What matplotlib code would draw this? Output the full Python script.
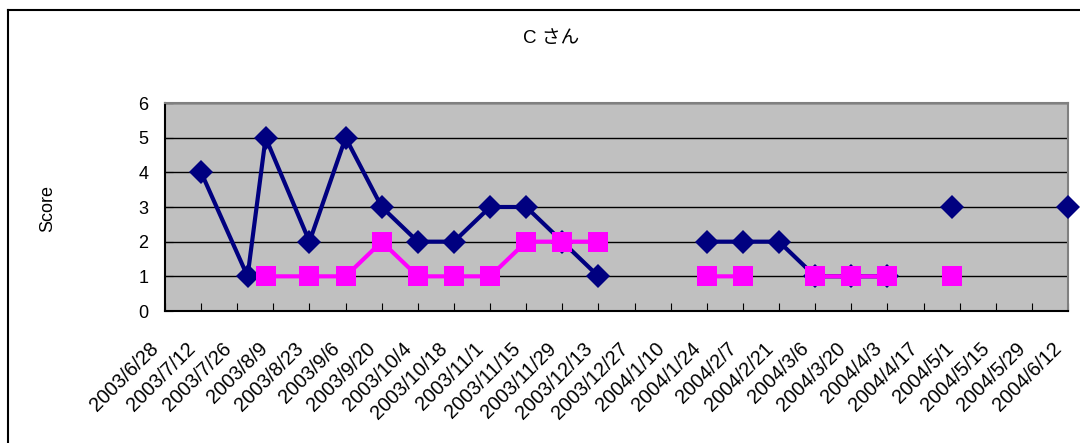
import numpy as np
import matplotlib
matplotlib.use("Agg")
import matplotlib.pyplot as plt
from matplotlib.lines import Line2D
from matplotlib.transforms import ScaledTranslation
from datetime import date, timedelta

plt.rcParams['font.family'] = ['Liberation Sans', 'Noto Sans CJK JP', 'DejaVu Sans']

# lesson dates and scores (nan = no entry, line breaks there)
dates = ["2003-07-12", "2003-07-30", "2003-08-06", "2003-08-23", "2003-09-06",
         "2003-09-20", "2003-10-04", "2003-10-18", "2003-11-01", "2003-11-15",
         "2003-11-29", "2003-12-13", "2003-12-27", "2004-01-10", "2004-01-24",
         "2004-02-07", "2004-02-21", "2004-03-06", "2004-03-20", "2004-04-03",
         "2004-04-17", "2004-04-28", "2004-05-15", "2004-06-12"]
score_a = [4, 1, 5, 2, 5, 3, 2, 2, 3, 3, 2, 1, np.nan, np.nan, 2, 2, 2, 1, 1, 1,
           np.nan, 3, np.nan, 3]
score_b = [np.nan, np.nan, 1, 1, 1, 2, 1, 1, 1, 2, 2, 2, np.nan, np.nan, 1, 1,
           np.nan, 1, 1, 1, np.nan, 1, np.nan, np.nan]

axis_start = date(2003, 6, 28)
axis_end = date(2004, 6, 12)
tick_dates = [axis_start + timedelta(days=14 * i) for i in range(26)]
tick_labels = ["%d/%d/%d" % (d.year, d.month, d.day) for d in tick_dates]

x = [date.fromisoformat(d) for d in dates]

fig = plt.figure(figsize=(10.8, 4.43), dpi=100)
ax = fig.add_axes([165 / 1080, 1 - 311 / 443, (1068 - 165) / 1080, (311 - 103) / 443])
ax.set_facecolor('#C0C0C0')

ax.plot(x, score_a, color='#000080', lw=3, marker='D', ms=12, mew=0, zorder=3,
        clip_on=False)
ax.plot(x, score_b, color='#FF00FF', lw=3, marker='s', ms=14.5, mew=0, zorder=4,
        clip_on=False)

ax.set_xlim(axis_start, axis_end)
ax.set_ylim(0, 6)
ax.set_yticks(range(7))
ax.yaxis.grid(True, color='black', lw=1)
ax.set_axisbelow(True)

ax.set_xticks(tick_dates)
ax.set_xticklabels(tick_labels, rotation=45, ha='right', va='center',
                   rotation_mode='anchor', fontsize=14.3)
ax.tick_params(axis='x', direction='in', length=6, pad=25)
ax.tick_params(axis='y', direction='in', length=6, pad=12, labelsize=13)
shift = ScaledTranslation(-9 / 100, 0, fig.dpi_scale_trans)
for lab in ax.get_xticklabels():
    lab.set_transform(lab.get_transform() + shift)

for s in ['left', 'bottom']:
    ax.spines[s].set_color('black')
    ax.spines[s].set_linewidth(1.5)
for s in ['top', 'right']:
    ax.spines[s].set_color('#808080')
    ax.spines[s].set_linewidth(1.5)

fig.text(551 / 1080, 1 - 38 / 443, "C さん", ha='center', va='center', fontsize=13.5)
fig.text(48 / 1080, 1 - 208 / 443, "Score", ha='center', va='center',
         rotation=90, fontsize=13)

# chart border (clipped on right and bottom like the original)
bx, by = 8 / 1080, 1 - 10 / 443
fig.add_artist(Line2D([bx, bx], [by, 0], color='black', lw=1.5))
fig.add_artist(Line2D([bx, 1], [by, by], color='black', lw=1.5))

fig.savefig("out.png", dpi=100)
